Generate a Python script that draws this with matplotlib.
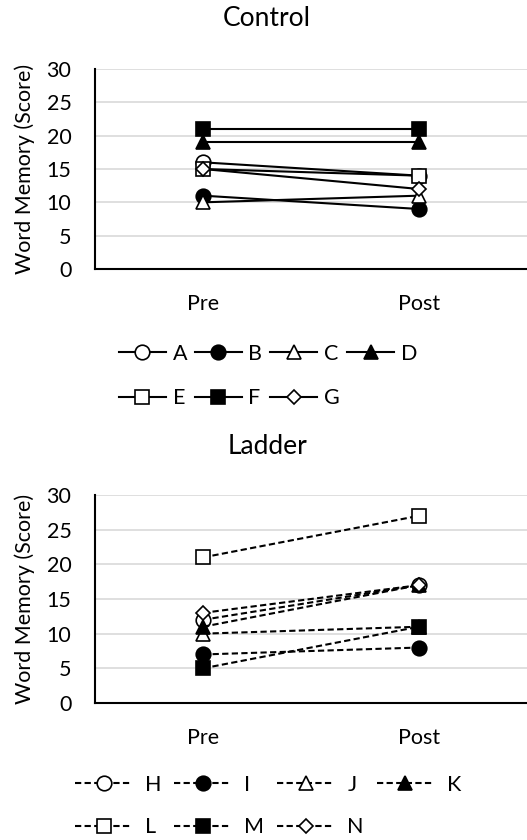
import matplotlib
matplotlib.use('Agg')
import matplotlib.pyplot as plt

# ---- data ----
stages = ['Pre', 'Post']

control_labels = ['A', 'B', 'C', 'D', 'E', 'F', 'G']
control_pre = [16, 11, 10, 19, 15, 21, 15]
control_post = [14, 9, 11, 19, 14, 21, 12]

ladder_labels = ['H', 'I', 'J', 'K', 'L', 'M', 'N']
ladder_pre = [12, 7, 10, 11, 21, 5, 13]
ladder_post = [17, 8, 11, 17, 27, 11, 17]

y_ticks = [0, 5, 10, 15, 20, 25, 30]

# marker style per participant slot (same pattern in both groups)
markers = ['o', 'o', '^', '^', 's', 's', 'D']
faces = ['white', 'black', 'white', 'black', 'white', 'black', 'white']
msizes = [10.5, 10.5, 10.5, 10.5, 10.5, 10.5, 7]

plt.rcParams['font.family'] = ['Lato', 'DejaVu Sans']
FS = 15.5

fig = plt.figure(figsize=(5.27, 8.4), dpi=100)
ax1 = fig.add_axes([95 / 527, 1 - 269 / 840, 432 / 527, 200 / 840])
ax2 = fig.add_axes([95 / 527, 1 - 703 / 840, 432 / 527, 208 / 840])


def draw_panel(ax, labels, pre, post, dashed):
    handles = []
    for i, lab in enumerate(labels):
        ln, = ax.plot([0, 1], [pre[i], post[i]], color='black', lw=1.5,
                      ls=(0, (3, 1.6)) if dashed else '-',
                      marker=markers[i], ms=msizes[i], mfc=faces[i],
                      mec='black', mew=1.2, label=lab, zorder=3 + i)
        handles.append(ln)
    ax.set_xlim(-0.5, 1.5)
    ax.set_ylim(0, 30)
    ax.set_yticks(y_ticks)
    ax.set_xticks([0, 1])
    ax.set_xticklabels(stages)
    ax.tick_params(axis='both', length=0, labelsize=FS)
    ax.tick_params(axis='y', pad=17)
    ax.tick_params(axis='x', pad=18)
    ax.grid(axis='y', color='#d9d9d9', lw=1.2)
    ax.set_axisbelow(True)
    for side in ('top', 'right'):
        ax.spines[side].set_visible(False)
    for side in ('left', 'bottom'):
        ax.spines[side].set_linewidth(1.5)
    ax.set_ylabel('Word Memory (Score)', fontsize=FS)
    ax.yaxis.set_label_coords(-0.139, 0.5)
    return handles


h1 = draw_panel(ax1, control_labels, control_pre, control_post, False)
h2 = draw_panel(ax2, ladder_labels, ladder_pre, ladder_post, True)

# legend filled column-wise -> reorder to get rows A B C D / E F G
order = [0, 4, 1, 5, 2, 6, 3]
fig.legend([h1[k] for k in order], [control_labels[k] for k in order],
           loc='center', bbox_to_anchor=(268 / 527, 1 - 376 / 840),
           ncol=4, frameon=False, fontsize=FS, handlelength=2.2,
           handletextpad=0.3, columnspacing=0.35, labelspacing=1.15,
           borderaxespad=0, borderpad=0)
fig.legend([h2[k] for k in order], [ladder_labels[k] for k in order],
           loc='center', bbox_to_anchor=(268 / 527, 1 - 806 / 840),
           ncol=4, frameon=False, fontsize=FS, handlelength=2.65,
           handletextpad=0.6, columnspacing=0.6, labelspacing=1.05,
           borderaxespad=0, borderpad=0)

fig.text(267 / 527, 1 - 19 / 840, 'Control', ha='center', va='center',
         fontsize=19)
fig.text(267 / 527, 1 - 446 / 840, 'Ladder', ha='center', va='center',
         fontsize=19)

fig.savefig('out.png', dpi=100)
